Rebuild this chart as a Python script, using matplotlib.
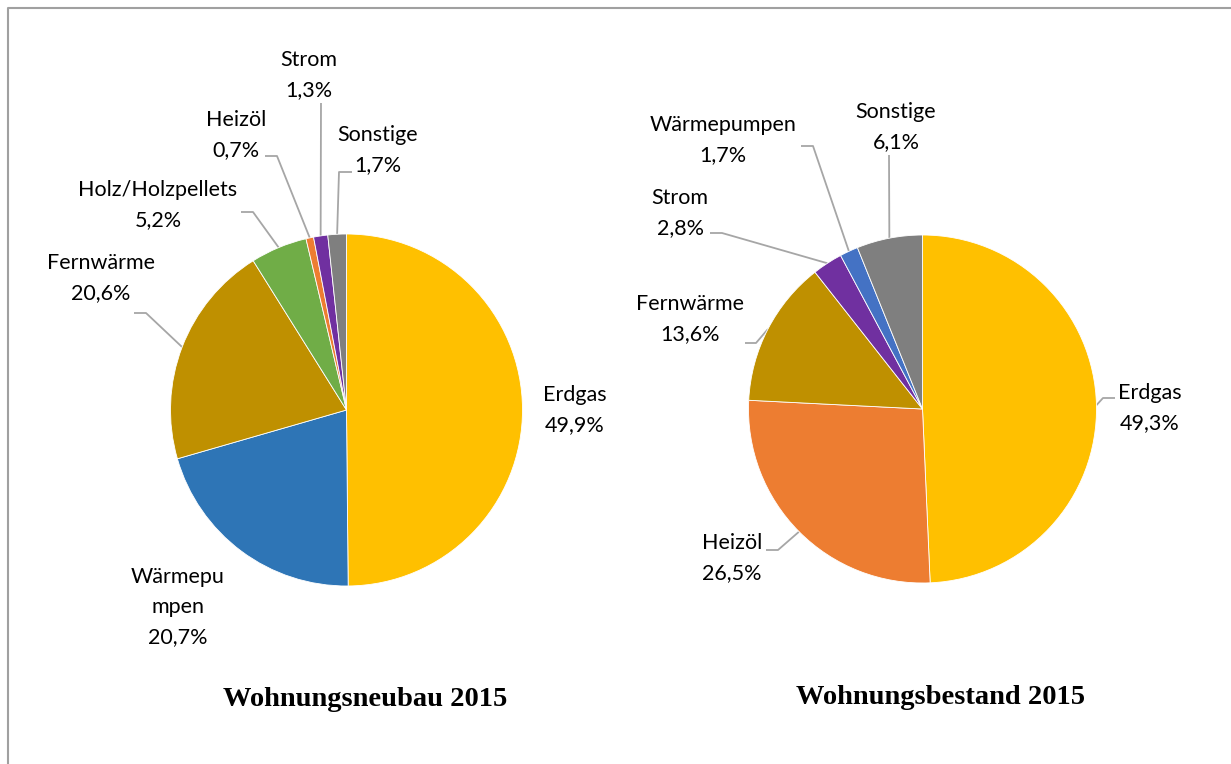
import numpy as np
import matplotlib
matplotlib.use('Agg')
import matplotlib.pyplot as plt

# Data: Beheizungsstruktur 2015
neubau_labels = ['Erdgas', 'Wärmepu\nmpen', 'Fernwärme', 'Holz/Holzpellets', 'Heizöl', 'Strom', 'Sonstige']
neubau_values = [49.9, 20.7, 20.6, 5.2, 0.7, 1.3, 1.7]
neubau_colors = ['#FFC000', '#2E75B6', '#BF9000', '#70AD47', '#ED7D31', '#7030A0', '#7F7F7F']

bestand_labels = ['Erdgas', 'Heizöl', 'Fernwärme', 'Strom', 'Wärmepumpen', 'Sonstige']
bestand_values = [49.3, 26.5, 13.6, 2.8, 1.7, 6.1]
bestand_colors = ['#FFC000', '#ED7D31', '#BF9000', '#7030A0', '#4472C4', '#7F7F7F']

W, H = 1231, 764
LABEL_FONT = ['Lato', 'DejaVu Sans']
LEADER = '#A6A6A6'


def fmt(v):
    return f'{v:.1f}'.replace('.', ',') + '%'


def to_y(y):
    # layout written in top-down pixels
    return H - y


fig = plt.figure(figsize=(W / 100, H / 100), dpi=100)
ax = fig.add_axes([0, 0, 1, 1])


def draw_pie(values, labels, colors, center, radius, label_pos, leaders, aligns):
    cx, cy = center[0], to_y(center[1])
    wedges, _ = ax.pie(values, colors=colors, startangle=90, counterclock=False,
                       center=(cx, cy), radius=radius,
                       wedgeprops=dict(edgecolor='white', linewidth=0.6))
    for i, w in enumerate(wedges):
        txt = labels[i] + '\n' + fmt(values[i])
        lx, ly = label_pos[i]
        ax.text(lx, to_y(ly), txt, ha=aligns[i], va='center', multialignment=aligns[i],
                fontsize=15.5, family=LABEL_FONT, linespacing=1.62, color='black')
        if leaders[i] is not None:
            (sx, sy), (ex, ey) = leaders[i]
            mid = np.deg2rad((w.theta1 + w.theta2) / 2)
            px = cx + radius * np.cos(mid)
            py = cy + radius * np.sin(mid)
            ax.plot([sx, ex, px], [to_y(sy), to_y(ey), py], color=LEADER, lw=1.3,
                    solid_capstyle='butt', zorder=0)


# left pie
draw_pie(neubau_values, neubau_labels, neubau_colors, (346.5, 410), 176,
         [(575, 410), (178, 607), (101, 278), (158, 205), (236, 135), (309, 75), (378, 150)],
         [None, None, ((134, 313), (146, 313)), ((241, 212), (253, 212)),
          ((265, 156), (277, 156)), ((321, 103), (321, 103)), ((352, 172), (339, 172))],
         ['center'] * 7)

# right pie
draw_pie(bestand_values, bestand_labels, bestand_colors, (922.5, 409), 174,
         [(1150, 408), (702, 558), (690, 319), (680, 213), (723, 140), (896, 127)],
         [((1115, 398), (1103, 398)), ((766, 550), (778, 550)), ((745, 343), (756, 343)),
          ((710, 233), (722, 233)), ((801, 146), (813, 146)), ((889, 155), (889, 155))],
         ['center', 'left', 'center', 'center', 'center', 'center'])

ax.text(365, to_y(700), 'Wohnungsneubau 2015', ha='center', va='center',
        fontsize=20.5, fontweight='bold', family='Liberation Serif')
ax.text(940, to_y(697), 'Wohnungsbestand 2015', ha='center', va='center',
        fontsize=20.5, fontweight='bold', family='Liberation Serif')

# outer frame (top and left edge visible)
ax.plot([7.5, 7.5, W], [0, to_y(7.5), to_y(7.5)], color='#A0A0A0', lw=1.5)

ax.set_xlim(0, W)
ax.set_ylim(0, H)
ax.set_aspect('equal')
ax.axis('off')

fig.savefig('out.png', dpi=100)
